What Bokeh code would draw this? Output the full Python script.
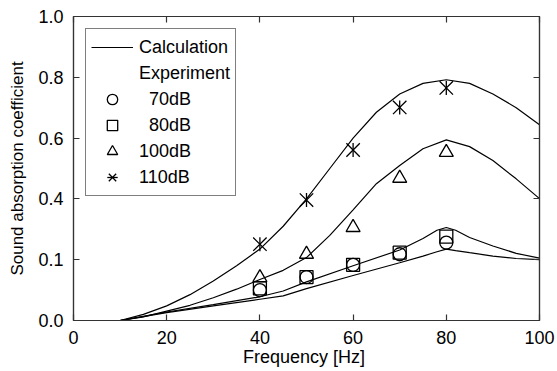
import math
from bokeh.plotting import figure
from bokeh.models import LinearAxis, FixedTicker, Legend, LegendItem, Range1d, CustomLabelingPolicy
from bokeh.embed import file_html
from bokeh.resources import INLINE

# ---- data ----
calc_freq = [10, 15, 20, 25, 30, 35, 40, 45, 50, 55, 60, 65, 70, 75, 80, 85, 90, 95, 100]
calc_110 = [0.0, 0.02, 0.048, 0.085, 0.13, 0.18, 0.235, 0.31, 0.40, 0.50, 0.60, 0.685, 0.745, 0.78, 0.792, 0.78, 0.745, 0.70, 0.644]
calc_100 = [0.0, 0.012, 0.031, 0.05, 0.075, 0.103, 0.135, 0.165, 0.207, 0.28, 0.364, 0.45, 0.51, 0.565, 0.594, 0.572, 0.526, 0.466, 0.401]

calc_freq_low = [10, 20, 30, 40, 45, 50, 60, 70, 75, 78, 80, 82, 85, 90, 95, 100]
calc_80 = [0.0, 0.028, 0.052, 0.078, 0.097, 0.127, 0.18, 0.232, 0.27, 0.297, 0.306, 0.297, 0.273, 0.245, 0.221, 0.205]
calc_70 = [0.0, 0.026, 0.048, 0.07, 0.081, 0.105, 0.148, 0.19, 0.212, 0.226, 0.235, 0.23, 0.223, 0.212, 0.204, 0.20]

exp_freq = [40, 50, 60, 70, 80]
exp_70 = [0.100, 0.143, 0.183, 0.218, 0.256]
exp_80 = [0.106, 0.143, 0.183, 0.223, 0.276]
exp_100 = [0.141, 0.218, 0.306, 0.468, 0.553]
exp_110 = [0.251, 0.396, 0.561, 0.701, 0.765]

x_ticks = [0, 20, 40, 60, 80, 100]
y_ticks = [0.0, 0.2, 0.4, 0.6, 0.8, 1.0]
y_tick_labels = ["0.0", "0.1", "0.4", "0.6", "0.8", "1.0"]

legend_labels = ["Calculation", "Experiment", "\u00a0\u00a070dB", "\u00a0\u00a080dB", "100dB", "110dB"]

FONT = "Liberation Sans"
AX = "#333333"

p = figure(width=557, height=371, x_range=Range1d(0, 100), y_range=Range1d(0, 1),
           output_backend="svg", toolbar_location=None,
           min_border_left=73, min_border_right=18, min_border_top=16, min_border_bottom=51)
p.xgrid.visible = False
p.ygrid.visible = False
p.outline_line_color = AX
p.outline_line_width = 1.2
p.background_fill_color = "white"
p.border_fill_color = "white"

no_labels = CustomLabelingPolicy(code="for (const i of [...indices]) { indices.unset(i) } return indices")

def style_axis(ax, show_labels):
    ax.axis_line_color = AX
    ax.axis_line_width = 1.2
    ax.major_tick_in = 6
    ax.major_tick_out = 0
    ax.minor_tick_in = 0
    ax.minor_tick_out = 0
    ax.major_tick_line_color = AX
    ax.major_tick_line_width = 1.2
    ax.major_label_text_font = FONT
    ax.major_label_text_color = "black"
    ax.axis_label_text_font = FONT
    ax.axis_label_text_font_style = "normal"
    ax.axis_label_text_color = "black"
    if show_labels:
        ax.major_label_text_font_size = "18px"
        ax.axis_label_text_font_size = "18px"
    else:
        ax.major_label_policy = no_labels
        ax.major_label_text_font_size = "0px"
        ax.major_label_standoff = 0

xax = p.xaxis[0]
yax = p.yaxis[0]
xax.ticker = FixedTicker(ticks=x_ticks)
yax.ticker = FixedTicker(ticks=y_ticks)
yax.major_label_overrides = {t: l for t, l in zip(y_ticks, y_tick_labels)}
style_axis(xax, True)
style_axis(yax, True)
xax.axis_label = "Frequency  [Hz]"
yax.axis_label = "Sound absorption coefficient"
yax.axis_label_text_font_size = "17px"
xax.major_label_standoff = 10
xax.axis_label_standoff = 0
yax.major_label_standoff = 10
yax.axis_label_standoff = 8

top = LinearAxis(ticker=FixedTicker(ticks=x_ticks))
right = LinearAxis(ticker=FixedTicker(ticks=y_ticks))
style_axis(top, False)
style_axis(right, False)
p.add_layout(top, "above")
p.add_layout(right, "right")

# calculation curves
lw = 1.2
r_c110 = p.line(calc_freq, calc_110, line_color="black", line_width=lw)
p.line(calc_freq, calc_100, line_color="black", line_width=lw)
p.line(calc_freq_low, calc_80, line_color="black", line_width=lw)
p.line(calc_freq_low, calc_70, line_color="black", line_width=lw)

# experiment markers
mlw = 1.3
r_sq = p.scatter(exp_freq, exp_80, marker="square", size=13, fill_color=None, line_color="black", line_width=mlw)
r_ci = p.scatter(exp_freq, exp_70, marker="circle", size=13, fill_color=None, line_color="black", line_width=mlw)
r_tr = p.scatter(exp_freq, exp_100, marker="triangle", size=14, fill_color=None, line_color="black", line_width=mlw)
r_x = p.scatter(exp_freq, exp_110, marker="x", size=19, line_color="black", line_width=mlw)
r_v = p.scatter(exp_freq, exp_110, marker="dash", angle=math.pi / 2, size=14, line_color="black", line_width=mlw)

r_dummy = p.line([], [], line_alpha=0)

legend = Legend(items=[
    LegendItem(label=legend_labels[0], renderers=[r_c110]),
    LegendItem(label=legend_labels[1], renderers=[r_dummy]),
    LegendItem(label=legend_labels[2], renderers=[r_ci]),
    LegendItem(label=legend_labels[3], renderers=[r_sq]),
    LegendItem(label=legend_labels[4], renderers=[r_tr]),
    LegendItem(label=legend_labels[5], renderers=[r_x, r_v]),
], location="top_left")
legend.margin = 12
legend.padding = 5
legend.spacing = 0
legend.glyph_width = 42
legend.glyph_height = 26
legend.label_height = 26
legend.label_standoff = 6
legend.label_text_font = FONT
legend.label_text_font_size = "18px"
legend.label_text_color = "black"
legend.border_line_color = "black"
legend.border_line_width = 1
legend.background_fill_color = "white"
legend.background_fill_alpha = 1
p.add_layout(legend, "center")

with open("out.html", "w") as f:
    f.write(file_html(p, INLINE))
